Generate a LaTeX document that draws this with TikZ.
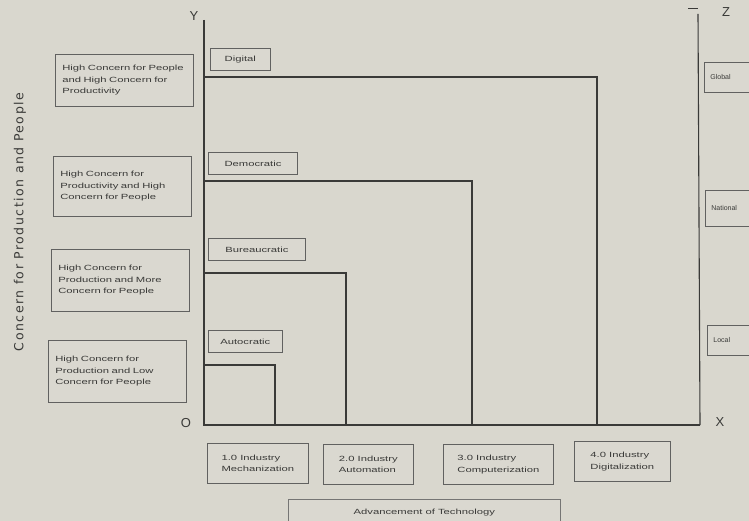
\documentclass[tikz,border=0pt]{standalone}
\usepackage{fontspec}
\setmainfont{Liberation Sans}
\newfontfamily\widefont[FakeStretch=1.5]{Liberation Sans}
\newfontfamily\titlefont[LetterSpace=12]{DejaVu Sans}
\usetikzlibrary{arrows.meta}
\definecolor{paper}{HTML}{D9D7CE}
\definecolor{ink}{HTML}{3A3A38}
\definecolor{boxfill}{HTML}{DAD8D0}
\begin{document}
\begin{tikzpicture}[x=1pt,y=-1pt,
  axisline/.style={draw=ink,line width=1.1pt},
  sqline/.style={draw=ink,line width=1.1pt},
  lbox/.style={draw=ink!80,line width=0.7pt,fill=boxfill,inner xsep=7pt,inner ysep=3pt,align=left,
    font=\widefont\fontsize{7.5}{11.5}\selectfont,text=ink,text width=124pt,minimum height=52pt,anchor=north west},
  sbox/.style={draw=ink!80,line width=0.7pt,fill=boxfill,font=\widefont\fontsize{7.5}{8}\selectfont,text=ink,
    minimum height=22pt,anchor=north west,inner sep=3pt},
  rbox/.style={draw=ink!80,line width=0.7pt,fill=boxfill,font=\fontsize{7}{8}\selectfont,text=ink,
    minimum width=60pt,anchor=north west,align=left,text width=48pt,inner xsep=5pt},
  bbox/.style={draw=ink!80,line width=0.7pt,fill=boxfill,font=\widefont\fontsize{7.5}{11.5}\selectfont,text=ink,
    align=left,minimum height=40pt,anchor=north west,inner xsep=6pt,inner ysep=3pt},
  axlab/.style={font=\fontsize{13}{13}\selectfont,text=ink}]
\fill[paper] (0,0) rectangle (749,521);
\clip (0,0) rectangle (749,521);
\useasboundingbox (0,0) rectangle (749,521);
% axes
\coordinate (O) at (204,425);
\coordinate (Ytop) at (204,20);
\coordinate (Xend) at (700,425);
\coordinate (Ztop) at (698,14);
\draw[axisline] (Ytop) -- (O) -- (Xend);
\draw[axisline] (Ztop) -- (Xend);
\node[axlab] (Ylab) at (194,16) {Y};
\node[axlab] (Olab) at (186,423) {O};
\node[axlab] (Xlab) at (720,422) {X};
\node[axlab] (Zlab) at (726,12) {Z};
\coordinate (ztick) at (688,8);
\draw[ink,line width=0.9pt] (ztick) -- ++(10,0);
% nested squares
\draw[sqline] (204,365) -- (275,365) -- (275,425);
\draw[sqline] (204,273) -- (346,273) -- (346,425);
\draw[sqline] (204,181) -- (472,181) -- (472,425);
\draw[sqline] (204,77) -- (597,77) -- (597,425);
% style labels
\node[sbox,minimum width=60pt] (dig) at (210,48) {Digital};
\node[sbox,minimum width=89pt,line width=1pt] (dem) at (208,152) {Democratic};
\node[sbox,minimum width=97pt] (bur) at (208,238) {Bureaucratic};
\node[sbox,minimum width=74pt] (aut) at (208,330) {Autocratic};
% left boxes
\node[lbox] (l1) at (55,54) {High Concern for People\\and High Concern for\\Productivity};
\node[lbox,minimum height=60pt] (l2) at (53,156) {High Concern for\\Productivity and High\\Concern for People};
\node[lbox,minimum height=62pt] (l3) at (51,249) {High Concern for\\Production and More\\Concern for People};
\node[lbox,minimum height=62pt] (l4) at (48,340) {High Concern for\\Production and Low\\Concern for People};
% vertical axis title
\node[rotate=90,font=\titlefont\fontsize{12.5}{12.5}\selectfont,text=ink] (ytitle) at (20,222) {Concern for Production and People};
% bottom boxes
\node[bbox,minimum width=101pt] (b1) at (207,443) {1.0 Industry\\Mechanization};
\node[bbox,minimum width=90pt] (b2) at (323,444) {2.0 Industry\\Automation};
\node[bbox,minimum width=110pt] (b3) at (443,444) {3.0 Industry\\Computerization};
\node[bbox,minimum width=96pt] (b4) at (574,441) {4.0 Industry\\Digitalization};
\node[draw=ink!70,line width=0.7pt,fill=boxfill,minimum width=272pt,minimum height=26pt,
  anchor=north west,font=\widefont\fontsize{7.5}{8}\selectfont,text=ink] (adv) at (288,499) {Advancement of Technology};
% right boxes
\node[rbox,minimum height=30pt] (glob) at (704,62) {Global};
\node[rbox,minimum height=36pt] (nat) at (705,190) {National};
\node[rbox,minimum height=30pt] (loc) at (707,325) {Local};
\end{tikzpicture}
\end{document}
